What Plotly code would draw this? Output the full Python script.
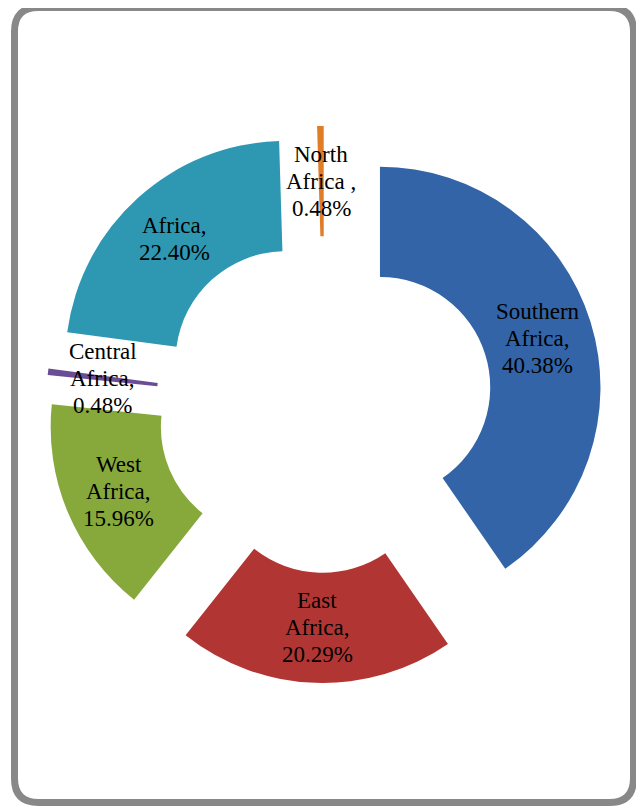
import math
import plotly.graph_objects as go

# ---- data ----
regions = ["Southern Africa", "East Africa", "West Africa", "Central Africa", "Africa", "North Africa"]
shares = [40.38, 20.29, 15.96, 0.48, 22.40, 0.48]
label_lines = [["Southern", "Africa,"], ["East", "Africa,"], ["West", "Africa,"],
               ["Central", "Africa,"], ["Africa,"], ["North", "Africa ,"]]
colors = ["#3264A7", "#B13633", "#87A93B", "#6B4D96", "#2E98B3", "#E17C27"]

# page has an 8px body margin; figure fills the rest of the 644x809 window
OFF = 8
W, H = 644 - OFF, 809 - OFF
pull = 0.263
hole = 0.5
cx_px, cy_px, half = 324.6 - OFF, 404.5 - OFF, 278.5  # pie box centre/half-size in px
FONT = dict(family="Liberation Serif, Times New Roman, serif", size=23, color="black")
LINE_GAP = 27

fig = go.Figure(go.Pie(
    labels=regions,
    values=shares,
    textinfo="none",
    marker=dict(colors=colors, line=dict(width=0)),
    hole=hole,
    pull=pull,
    sort=False,
    direction="clockwise",
    rotation=0,
    domain=dict(x=[(cx_px - half) / W, (cx_px + half) / W],
                y=[1 - (cy_px + half) / H, 1 - (cy_px - half) / H]),
    showlegend=False,
    hoverinfo="label+percent",
))

# data labels at each (pulled) slice centre
R = half / (1 + pull)
total = sum(shares)
cum = 0.0
for lines, v in zip(label_lines, shares):
    mid = (cum + v / 2) / total * 2 * math.pi
    cum += v
    dist = R * (1 + hole) / 2 + pull * R
    px = cx_px + dist * math.sin(mid)
    py = cy_px - dist * math.cos(mid)
    all_lines = lines + [f"{v:.2f}%"]
    n = len(all_lines)
    for i, line in enumerate(all_lines):
        ly = py + (i - (n - 1) / 2) * LINE_GAP
        fig.add_annotation(x=px / W, y=1 - ly / H, xref="paper", yref="paper",
                           xanchor="center", yanchor="middle",
                           text=line, showarrow=False, align="center", font=FONT)

# rounded frame
l, r, t_, b, rad = 14.5 - OFF, 633.5 - OFF, 7.5 - OFF, 802.5 - OFF, 24
def P(x, y):
    return f"{x / W:.5f},{1 - y / H:.5f}"
path = (f"M {P(l + rad, t_)} L {P(r - rad, t_)} Q {P(r, t_)} {P(r, t_ + rad)} "
        f"L {P(r, b - rad)} Q {P(r, b)} {P(r - rad, b)} "
        f"L {P(l + rad, b)} Q {P(l, b)} {P(l, b - rad)} "
        f"L {P(l, t_ + rad)} Q {P(l, t_)} {P(l + rad, t_)} Z")
fig.add_shape(type="path", xref="paper", yref="paper", path=path,
              line=dict(color="#888888", width=7), fillcolor="rgba(0,0,0,0)")

fig.update_layout(width=W, height=H, margin=dict(l=0, r=0, t=0, b=0),
                  paper_bgcolor="white", plot_bgcolor="white")
fig.write_html("out.html")
